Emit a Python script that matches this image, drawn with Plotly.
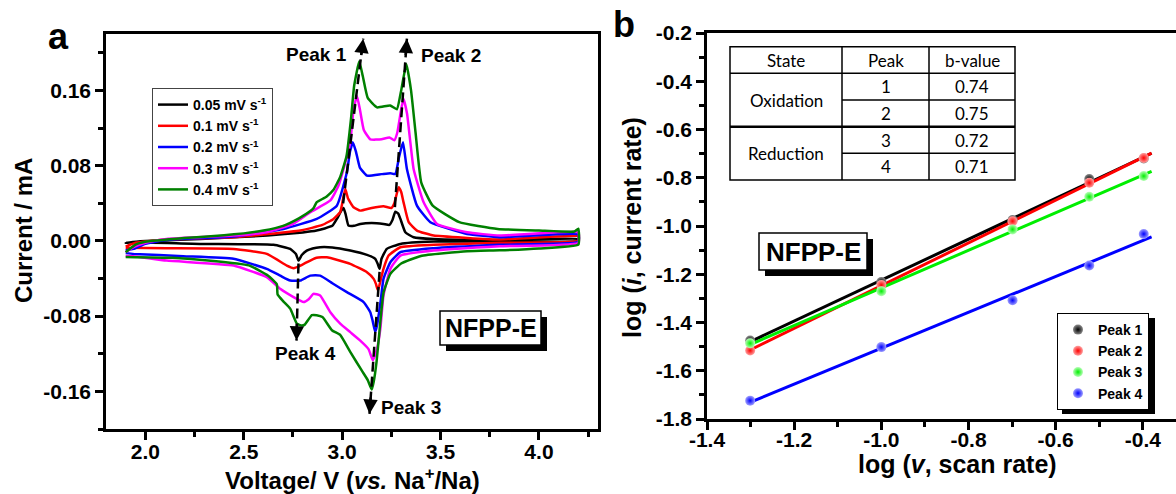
import numpy as np
import plotly.graph_objects as go

W, H = 1176, 494

# ---------------- Panel a : CV curves (V vs Na+/Na, mA) ----------------
scan_labels = ["0.05 mV s<sup>-1</sup>", "0.1 mV s<sup>-1</sup>", "0.2 mV s<sup>-1</sup>",
               "0.3 mV s<sup>-1</sup>", "0.4 mV s<sup>-1</sup>"]
scan_colors = ["#000000", "#ff0000", "#0000ff", "#ff00ff", "#008000"]

# 0.05 mV/s
v_005_ox = [1.90, 2.00, 2.28, 2.62, 2.80, 2.87, 2.95, 2.975, 2.995, 3.007, 3.018, 3.032, 3.06, 3.092, 3.15,
            3.21, 3.24, 3.255, 3.27, 3.285, 3.296, 3.321, 3.363, 3.465, 3.80, 4.20]
i_005_ox = [-0.002, 0.000, 0.002, 0.0057, 0.009, 0.011, 0.016, 0.024, 0.032, 0.035, 0.028, 0.0163, 0.016, 0.018, 0.019,
            0.018, 0.017, 0.022, 0.031, 0.029, 0.0234, 0.0092, 0.0039, 0.002, 0.001, 0.002]
v_005_re = [4.20, 3.80, 3.465, 3.296, 3.227, 3.20, 3.19, 3.18, 3.168, 3.126, 3.041, 2.95, 2.888, 2.85, 2.82,
            2.795, 2.778, 2.765, 2.736, 2.651, 2.278, 1.94, 1.90]
i_005_re = [0.000, -0.0005, -0.0007, -0.0032, -0.0085, -0.019, -0.0297, -0.024, -0.019, -0.0149, -0.0103, -0.007,
            -0.0067, -0.008, -0.0103, -0.015, -0.0209, -0.014, -0.0085, -0.0042, -0.0032, -0.0014, -0.002]

# 0.1 mV/s
v_01_ox = [1.90, 1.95, 2.108, 2.448, 2.787, 2.90, 2.956, 2.99, 3.005, 3.016, 3.03, 3.058, 3.092, 3.15, 3.21,
           3.25, 3.265, 3.287, 3.30, 3.312, 3.338, 3.38, 3.465, 3.635, 3.80, 4.20]
i_01_ox = [-0.006, -0.002, 0.0016, 0.0039, 0.011, 0.017, 0.0234, 0.0305, 0.045, 0.0552, 0.045, 0.0358, 0.0322,
           0.035, 0.0368, 0.035, 0.040, 0.057, 0.052, 0.041, 0.0199, 0.011, 0.0057, 0.0032, 0.0014, 0.005]
v_01_re = [4.20, 3.80, 3.465, 3.296, 3.236, 3.21, 3.195, 3.182, 3.172, 3.16, 3.126, 3.041, 2.922, 2.87, 2.838,
           2.80, 2.753, 2.719, 2.617, 2.448, 2.108, 1.90]
i_01_re = [0.000, -0.002, -0.0042, -0.0067, -0.0156, -0.0297, -0.042, -0.0528, -0.046, -0.0404, -0.0333, -0.0244,
           -0.0173, -0.018, -0.0209, -0.025, -0.029, -0.0262, -0.0138, -0.0085, -0.0078, -0.0074]

# 0.2 mV/s
v_02_ox = [1.90, 1.94, 2.00, 2.108, 2.448, 2.702, 2.871, 2.973, 3.024, 3.04, 3.054, 3.07, 3.09, 3.126, 3.20,
           3.245, 3.27, 3.29, 3.309, 3.329, 3.38, 3.448, 3.635, 3.80, 4.20]
i_02_ox = [-0.010, -0.0085, -0.003, 0.001, 0.0046, 0.0127, 0.0234, 0.0375, 0.073, 0.095, 0.105, 0.095, 0.078,
           0.0694, 0.071, 0.072, 0.071, 0.090, 0.105, 0.0765, 0.0375, 0.0199, 0.0074, 0.0039, 0.007]
v_02_re = [4.20, 3.80, 3.465, 3.296, 3.245, 3.21, 3.195, 3.177, 3.168, 3.155, 3.143, 3.109, 3.024, 2.95, 2.888,
           2.838, 2.787, 2.736, 2.685, 2.617, 2.448, 2.193, 1.94, 1.90]
i_02_re = [-0.001, -0.0042, -0.0078, -0.012, -0.0227, -0.0404, -0.065, -0.09, -0.097, -0.085, -0.0758, -0.065,
           -0.0545, -0.045, -0.0369, -0.0369, -0.0422, -0.0422, -0.0369, -0.0297, -0.019, -0.0163, -0.0138, -0.013]

# 0.3 mV/s
v_03_ox = [1.90, 1.94, 2.00, 2.108, 2.448, 2.617, 2.75, 2.838, 2.94, 2.98, 3.007, 3.041, 3.058, 3.075, 3.09,
           3.11, 3.143, 3.20, 3.24, 3.265, 3.28, 3.30, 3.312, 3.33, 3.363, 3.414, 3.482, 3.635, 3.80, 4.20]
i_03_ox = [-0.012, -0.0067, -0.002, 0.002, 0.0057, 0.0092, 0.018, 0.0305, 0.043, 0.058, 0.0765, 0.105, 0.14,
           0.154, 0.14, 0.118, 0.108, 0.108, 0.110, 0.107, 0.115, 0.140, 0.151, 0.135, 0.0765, 0.041, 0.018,
           0.0092, 0.0057, 0.009]
v_03_re = [4.20, 3.80, 3.465, 3.296, 3.245, 3.21, 3.194, 3.177, 3.156, 3.134, 3.092, 3.041, 2.99, 2.94, 2.888,
           2.854, 2.83, 2.804, 2.753, 2.685, 2.617, 2.448, 2.108, 1.94, 1.90]
i_03_re = [-0.002, -0.0057, -0.0103, -0.0156, -0.0297, -0.058, -0.0935, -0.115, -0.127, -0.115, -0.106, -0.097,
           -0.088, -0.0758, -0.058, -0.0563, -0.062, -0.065, -0.0598, -0.051, -0.0386, -0.0262, -0.0209, -0.0163,
           -0.016]

# 0.4 mV/s
v_04_ox = [1.90, 1.95, 2.00, 2.20, 2.40, 2.50, 2.60, 2.70, 2.78, 2.84, 2.855, 2.87, 2.92, 2.955, 2.99, 3.022,
           3.045, 3.061, 3.087, 3.105, 3.13, 3.177, 3.244, 3.278, 3.30, 3.326, 3.35, 3.373, 3.402, 3.46, 3.595,
           3.79, 4.00, 4.18, 4.20]
i_04_ox = [-0.012, -0.004, -0.001, 0.003, 0.006, 0.008, 0.011, 0.016, 0.024, 0.032, 0.035, 0.041, 0.047, 0.054,
           0.068, 0.090, 0.130, 0.165, 0.191, 0.175, 0.152, 0.142, 0.144, 0.140, 0.160, 0.188, 0.160, 0.115,
           0.062, 0.0375, 0.020, 0.0127, 0.011, 0.010, 0.013]
v_04_re = [4.20, 4.00, 3.80, 3.635, 3.40, 3.30, 3.245, 3.21, 3.19, 3.175, 3.16, 3.15, 3.13, 3.10, 3.041, 2.99,
           2.948, 2.90, 2.87, 2.846, 2.81, 2.795, 2.77, 2.736, 2.70, 2.672, 2.668, 2.624, 2.526, 2.332, 2.137, 1.90]
i_04_re = [-0.004, -0.008, -0.010, -0.011, -0.016, -0.024, -0.035, -0.055, -0.095, -0.128, -0.150, -0.158,
           -0.148, -0.138, -0.118, -0.100, -0.095, -0.081, -0.079, -0.079, -0.089, -0.090, -0.088, -0.072,
           -0.064, -0.057, -0.046, -0.037, -0.026, -0.021, -0.018, -0.017]

cv_v = [v_005_ox + v_005_re, v_01_ox + v_01_re, v_02_ox + v_02_re, v_03_ox + v_03_re, v_04_ox + v_04_re]
cv_i = [i_005_ox + i_005_re, i_01_ox + i_01_re, i_02_ox + i_02_re, i_03_ox + i_03_re, i_04_ox + i_04_re]

# peak-shift guide arrows (tail -> tip), data coordinates
arrow_names = ["Peak 1", "Peak 2", "Peak 3", "Peak 4"]
arrow_tail_v = [3.005, 3.268, 3.190, 2.778]
arrow_tail_i = [0.040, 0.036, -0.033, -0.024]
arrow_tip_v = [3.107, 3.329, 3.139, 2.768]
arrow_tip_i = [0.215, 0.215, -0.184, -0.106]

a_xticks = [2.0, 2.5, 3.0, 3.5, 4.0]
a_xminor = [2.25, 2.75, 3.25, 3.75, 4.25]
a_yticks = [-0.16, -0.08, 0.0, 0.08, 0.16]
a_yminor = [-0.20, -0.12, -0.04, 0.04, 0.12, 0.20]

# ---------------- Panel b : log(i) vs log(v) ----------------
log_scan_rate = [-1.301, -1.0, -0.699, -0.523, -0.398]
peak_names = ["Peak 1", "Peak 2", "Peak 3", "Peak 4"]
peak_colors = ["#000000", "#ff0000", "#00ee00", "#0000ff"]
peak_light = ["#8a8a8a", "#ffa0a0", "#b8ffb8", "#a0a0ff"]
log_i_peak1 = [-1.475, -1.232, -0.975, -0.805, -0.720]
log_i_peak2 = [-1.516, -1.245, -0.980, -0.821, -0.718]
log_i_peak3 = [-1.486, -1.270, -1.014, -0.879, -0.793]
log_i_peak4 = [-1.724, -1.502, -1.308, -1.164, -1.033]
log_i_peaks = [log_i_peak1, log_i_peak2, log_i_peak3, log_i_peak4]
fit_x_span = [-1.30, -0.38]

table_header = ["State", "Peak", "b-value"]
table_states = ["Oxidation", "Reduction"]
table_peaks = ["1", "2", "3", "4"]
table_bvalues = ["0.74", "0.75", "0.72", "0.71"]

b_xticks = [-1.4, -1.2, -1.0, -0.8, -0.6, -0.4]
b_xminor = [-1.3, -1.1, -0.9, -0.7, -0.5]
b_yticks = [-1.8, -1.6, -1.4, -1.2, -1.0, -0.8, -0.6, -0.4, -0.2]
b_yminor = [-1.7, -1.5, -1.3, -1.1, -0.9, -0.7, -0.5, -0.3]

# ---------------- helpers (pixel -> paper) ----------------
def PX(x):
    return x / W

def PY(y):
    return 1 - y / H

FONT = "Liberation Sans, Arial, sans-serif"
BOLD = dict(family=FONT, color="black", weight="bold")

# panel a axis geometry (used only to orient arrowheads on screen)
A_X0, A_X1, A_Y0, A_Y1 = 106, 598, 34, 429
A_XR, A_YR = [1.8, 4.3], [-0.2, 0.22]
sx = (A_X1 - A_X0) / (A_XR[1] - A_XR[0])
sy = (A_Y1 - A_Y0) / (A_YR[1] - A_YR[0])

fig = go.Figure()

for k in range(5):
    fig.add_trace(go.Scatter(
        x=cv_v[k], y=cv_i[k], mode="lines", name=scan_labels[k],
        line=dict(color=scan_colors[k], width=2.5, shape="spline", smoothing=0.4),
        xaxis="x", yaxis="y", legend="legend"))

for k in range(4):
    slope, icpt = np.polyfit(log_scan_rate, log_i_peaks[k], 1)
    fx = np.array(fit_x_span)
    fig.add_trace(go.Scatter(
        x=fx, y=slope * fx + icpt, mode="lines", showlegend=False,
        line=dict(color=peak_colors[k], width=3), xaxis="x2", yaxis="y2"))
for k in range(4):
    fig.add_trace(go.Scatter(
        x=log_scan_rate, y=log_i_peaks[k], mode="markers", name=peak_names[k],
        marker=dict(size=10, color=peak_light[k],
                    gradient=dict(type="radial", color=peak_colors[k]), line=dict(width=0)),
        xaxis="x2", yaxis="y2", legend="legend2"))

axis_common = dict(showgrid=False, zeroline=False, showline=True, linecolor="black", linewidth=2.5,
                   ticks="outside", ticklen=8, tickwidth=2.5, tickcolor="black",
                   tickfont=dict(size=21, **BOLD), automargin=False)

def minor(vals):
    return dict(tickmode="array", tickvals=vals, ticks="outside", ticklen=5, tickwidth=2.5,
                tickcolor="black", showgrid=False)

shapes = []
annotations = []

# dashed guide lines + arrowheads
for k in range(4):
    shapes.append(dict(type="line", xref="x", yref="y",
                       x0=arrow_tail_v[k], y0=arrow_tail_i[k], x1=arrow_tip_v[k], y1=arrow_tip_i[k],
                       line=dict(color="black", width=2.5, dash="10px,5px"), layer="above"))
    dxp = (arrow_tip_v[k] - arrow_tail_v[k]) * sx
    dyp = -(arrow_tip_i[k] - arrow_tail_i[k]) * sy
    n = (dxp ** 2 + dyp ** 2) ** 0.5
    annotations.append(dict(xref="x", yref="y", text="",
                            x=arrow_tip_v[k], y=arrow_tip_i[k],
                            ax=-dxp / n * 18, ay=-dyp / n * 18,
                            showarrow=True, arrowhead=2, arrowsize=1.15, arrowwidth=2.5,
                            arrowcolor="black", standoff=0))

peak_label_pos = [(316, 54), (451, 55), (411, 407), (305, 353)]
for name, (px, py) in zip(arrow_names, peak_label_pos):
    annotations.append(dict(xref="paper", yref="paper", x=PX(px), y=PY(py), text=name,
                            showarrow=False, xanchor="center", yanchor="middle",
                            font=dict(size=19, **BOLD)))

# NFPP-E boxes with shadow
def tag_box(x0, y0, x1, y1, size):
    shapes.append(dict(type="rect", xref="paper", yref="paper", x0=PX(x0 + 6), y0=PY(y0 + 6),
                       x1=PX(x1 + 6), y1=PY(y1 + 6), fillcolor="black", line=dict(width=0), layer="above"))
    shapes.append(dict(type="rect", xref="paper", yref="paper", x0=PX(x0), y0=PY(y0),
                       x1=PX(x1), y1=PY(y1), fillcolor="white", line=dict(color="black", width=1.5),
                       layer="above"))
    annotations.append(dict(xref="paper", yref="paper", x=PX((x0 + x1) / 2), y=PY((y0 + y1) / 2),
                            text="NFPP-E", showarrow=False, xanchor="center", yanchor="middle",
                            font=dict(size=size, **BOLD)))

tag_box(440, 311, 541, 345, 25)
tag_box(759, 233, 867, 270, 26)

# legend b shadow
shapes.append(dict(type="rect", xref="paper", yref="paper", x0=PX(1062), y0=PY(318), x1=PX(1155),
                   y1=PY(414), fillcolor="black", line=dict(width=0), layer="above"))

# table in panel b
tx = [730, 842, 929, 1015]
ty = [46.7, 73.3, 100, 126.7, 153.3, 180]
shapes.append(dict(type="rect", xref="paper", yref="paper", x0=PX(tx[0]), y0=PY(ty[0]), x1=PX(tx[3]),
                   y1=PY(ty[5]), fillcolor="white", line=dict(color="black", width=1.5), layer="above"))
for xv in tx[1:3]:
    shapes.append(dict(type="line", xref="paper", yref="paper", x0=PX(xv), x1=PX(xv), y0=PY(ty[0]),
                       y1=PY(ty[5]), line=dict(color="black", width=1.5), layer="above"))
for yv in ty[1:5]:
    full = yv in (ty[1], ty[3])
    shapes.append(dict(type="line", xref="paper", yref="paper", x0=PX(tx[0] if full else tx[1]), x1=PX(tx[3]),
                       y0=PY(yv), y1=PY(yv),
                       line=dict(color="black", width=2.5 if yv == ty[3] else 1.5), layer="above"))
TFONT = dict(family="Lato, Open Sans, sans-serif", size=17, color="black")
col_c = [(tx[0] + tx[1]) / 2, (tx[1] + tx[2]) / 2, (tx[2] + tx[3]) / 2]

def cell(px, py, t):
    annotations.append(dict(xref="paper", yref="paper", x=PX(px), y=PY(py), text=t, showarrow=False,
                            xanchor="center", yanchor="middle", font=TFONT))

for c, t in zip(col_c, table_header):
    cell(c, (ty[0] + ty[1]) / 2, t)
for r, t in enumerate(table_states):
    cell(col_c[0], ty[1 + 2 * r + 1], t)
for r in range(4):
    yc = (ty[1 + r] + ty[2 + r]) / 2
    cell(col_c[1], yc, table_peaks[r])
    cell(col_c[2], yc, table_bvalues[r])

# axis titles and panel letters
def text(px, py, t, size, angle=0):
    annotations.append(dict(xref="paper", yref="paper", x=PX(px), y=PY(py), text=t, textangle=angle,
                            showarrow=False, xanchor="center", yanchor="middle", font=dict(size=size, **BOLD)))

text(352, 479, "Voltage/ V (<i>vs.</i> Na<sup>+</sup>/Na)", 24)
text(23, 231, "Current / mA", 24, -90)
text(957, 464, "log (<i>v</i>, scan rate)", 25)
text(632, 228, "log (<i>i</i>, current rate)", 25, -90)
text(58, 36, "a", 36)
text(624, 25, "b", 36)

fig.update_layout(
    width=W, height=H, margin=dict(l=0, r=0, t=0, b=0),
    paper_bgcolor="white", plot_bgcolor="white",
    xaxis=dict(domain=[PX(A_X0), PX(A_X1)], range=A_XR, anchor="y", mirror=True,
               tickmode="array", tickvals=a_xticks, ticktext=[f"{v:.1f}" for v in a_xticks],
               minor=minor(a_xminor), ticklabelstandoff=-6, **axis_common),
    yaxis=dict(domain=[PY(A_Y1), PY(A_Y0)], range=A_YR, anchor="x", mirror=True,
               tickmode="array", tickvals=a_yticks, ticktext=[f"{v:.2f}" for v in a_yticks],
               minor=minor(a_yminor), ticklabelstandoff=0, **axis_common),
    xaxis2=dict(domain=[PX(707), 1.0], range=[-1.4, -0.324], anchor="y2", mirror=True,
                tickmode="array", tickvals=b_xticks, ticktext=[f"{v:.1f}" for v in b_xticks],
                minor=minor(b_xminor), ticklabelstandoff=-8, **axis_common),
    yaxis2=dict(domain=[PY(419), PY(33)], range=[-1.8, -0.2], anchor="x2", mirror=False,
                tickmode="array", tickvals=b_yticks, ticktext=[f"{v:.1f}" for v in b_yticks],
                minor=minor(b_yminor), ticklabelstandoff=0, **axis_common),
    legend=dict(x=PX(152), y=PY(88), xanchor="left", yanchor="top", bgcolor="white",
                bordercolor="#444444", borderwidth=1, font=dict(size=14, **BOLD),
                tracegroupgap=0, itemwidth=30),
    legend2=dict(x=PX(1057), y=PY(313), xanchor="left", yanchor="top", bgcolor="white",
                 bordercolor="black", borderwidth=1, font=dict(size=14, **BOLD), itemwidth=30),
    shapes=shapes, annotations=annotations,
)

fig.write_html("out.html", config={"displayModeBar": False})
